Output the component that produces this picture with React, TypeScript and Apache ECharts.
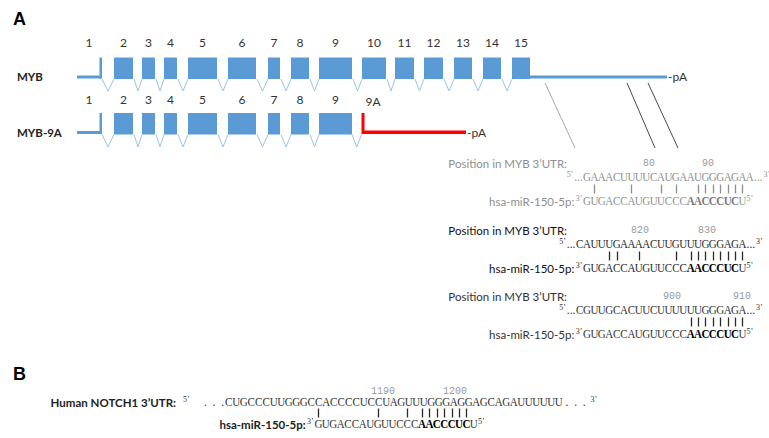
import React, { useEffect, useRef } from "react";
import * as echarts from "echarts";

const W = 769;
const H = 438;

// ---------- Panel A : gene model data ----------
const exonNumbers = ["1", "2", "3", "4", "5", "6", "7", "8", "9", "10", "11", "12", "13", "14", "15"];
const mybExons: [number, number][] = [
  [77, 101], [114, 133], [142, 155], [164, 177], [188, 217], [228, 256], [268, 280],
  [291, 309], [319, 352], [362, 386], [395, 414], [424, 443], [454, 472], [483, 501], [512, 530],
];
const myb3UTR: [number, number] = [530, 667];
const myb9aExonCount = 9;
const exon9A: [number, number] = [363, 466];
const exon9ALabel = "9A";
const trackNames = ["MYB", "MYB-9A"];
const utrSites: [number, number][] = [[545, 575], [627, 655], [648, 678]];

// ---------- alignments ----------
const mirName = "hsa-miR-150-5p:";
const mirSeq = "GUGACCAUGUUCCCAACCCUCU";
const mirBold: [number, number] = [14, 20];

const site1Top = "GAAACUUUUCAUGAAUGGGAGAA";
const site1Pairs = [1, 6, 10, 12, 15, 16, 17, 18, 19, 20, 21];
const site1Ticks = ["80", "90"];

const site2Top = "CAUUUGAAAACUUGUUUGGGAGA";
const site2Pairs = [3, 4, 7, 12, 14, 15, 16, 17, 18, 19, 20, 21];
const site2Ticks = ["820", "830"];

const site3Top = "CGUUGCACUUCUUUUUUGGGAGA";
const site3Pairs = [14, 15, 16, 17, 18, 19, 20, 21];
const site3Ticks = ["900", "910"];

const notchLabel = "Human NOTCH1 3\u2019UTR:";
const notchTop = "CUGCCCUUGGGCCACCCCUCCUAGUUUGGGAGGAGCAGAUUUUUU";
const notchPairs = [0, 8, 12, 14, 15, 16, 17, 18, 19, 20];
const notchTicks = ["1190", "1200"];

// ---------- layout & style (not data) ----------
const BLUE = "#5b9bd5";
const LIGHTBLUE = "#9dc3e6";
const RED = "#ff0000";
const FONT_LABEL = "Lato, 'Open Sans', sans-serif";
const FONT_SEQ = "'Liberation Serif', 'DejaVu Serif', serif";
const FONT_NUM = "'Liberation Mono', 'DejaVu Sans Mono', monospace";
const FONT_HEAD = "'Liberation Sans', Arial, sans-serif";
const PAIR_COLORS = ["#8f8f8f", "#2a2a2a"];
const SEQ_SIZE = 12.5;
const SEQ_SCALE = 0.88;

const TRACK = [
  { top: 57.5, bottom: 79, lineTop: 75.5, depth: 91, numY: 42, labelY: 76 },
  { top: 113, bottom: 134.5, lineTop: 131, depth: 147, numY: 99, labelY: 132 },
];

const P = 7.4;
const B0 = 587;
const SITE_LAYOUT = [
  { y: 164, tickX: [649, 708], offset: 0, color: "#8f8f8f", labelColor: "#8f8f8f", boldColor: "#7a7a7a", pairColor: 0 },
  { y: 231, tickX: [640, 707], offset: 1, color: "#2a2a2a", labelColor: "#111", boldColor: "#000", pairColor: 1 },
  { y: 297, tickX: [672, 742], offset: 1, color: "#333", labelColor: "#333", boldColor: "#000", pairColor: 1 },
];
const SITES = [
  { top: site1Top, pairs: site1Pairs, ticks: site1Ticks },
  { top: site2Top, pairs: site2Pairs, ticks: site2Ticks },
  { top: site3Top, pairs: site3Pairs, ticks: site3Ticks },
];
const NB = { yNum: 391, ySeq: 402, yBar: 413, yMir: 424, TP: 7.5, T0: 228.75, MB0: 318.4, MP: 7.4 };

type Txt = {
  x: number; y: number; text: string; size?: number; color?: string;
  weight?: string; family?: string; align?: "left" | "center" | "right"; sx?: number;
};

function buildTexts(): Txt[] {
  const out: Txt[] = [];
  const add = (o: Txt) => out.push(o);

  add({ x: 13, y: 19, text: "A", size: 18, weight: "bold", family: FONT_HEAD, color: "#000" });
  add({ x: 13, y: 374, text: "B", size: 18, weight: "bold", family: FONT_HEAD, color: "#000" });

  mybExons.forEach(([s, e], i) => {
    add({ x: (s + e) / 2, y: TRACK[0].numY, text: exonNumbers[i], size: 12, family: FONT_LABEL, color: "#333", align: "center" });
    if (i < myb9aExonCount) {
      add({ x: (s + e) / 2, y: TRACK[1].numY, text: exonNumbers[i], size: 12, family: FONT_LABEL, color: "#333", align: "center" });
    }
  });
  add({ x: exon9A[0] + 10, y: TRACK[1].numY + 2, text: exon9ALabel, size: 12, family: FONT_LABEL, color: "#333", align: "center" });

  trackNames.forEach((n, i) => {
    add({ x: 17, y: TRACK[i].labelY, text: n, size: 11.5, weight: "bold", family: FONT_LABEL, color: "#222" });
  });
  add({ x: myb3UTR[1] + 1, y: TRACK[0].labelY, text: "-pA", size: 12, family: FONT_LABEL, color: "#333" });
  add({ x: exon9A[1] + 1, y: TRACK[1].labelY, text: "-pA", size: 12, family: FONT_LABEL, color: "#333" });

  const seqRow = (seq: string, y: number, c0: number, pitch: number, color: string, boldColor: string, bold?: [number, number]) => {
    for (let i = 0; i < seq.length; i++) {
      const isB = !!bold && i >= bold[0] && i <= bold[1];
      add({ x: c0 + pitch * i, y, text: seq[i], size: SEQ_SIZE, sx: SEQ_SCALE, family: FONT_SEQ, color: isB ? boldColor : color, weight: isB ? "bold" : "normal", align: "center" });
    }
  };

  SITES.forEach((site, k) => {
    const s = SITE_LAYOUT[k];
    const ySeq = s.y + 13;
    const yMir = s.y + 37;
    add({ x: 567, y: s.y - 1, text: "Position in MYB 3\u2019UTR:", size: 11.5, family: FONT_LABEL, color: s.labelColor, align: "right" });
    site.ticks.forEach((tk, i) => add({ x: s.tickX[i], y: s.y - 1, text: tk, size: 10, family: FONT_NUM, color: "#9a9a9a", align: "center" }));
    const t0 = B0 - P * s.offset;
    const left = t0 - P / 2;
    const right = t0 + P * (site.top.length - 1) + P / 2;
    add({ x: left - 0.5, y: ySeq, text: "...", size: 11.5, family: FONT_SEQ, color: s.color, align: "right" });
    add({ x: left - 10, y: ySeq - 3, text: "5\u2019", size: 8, family: FONT_SEQ, color: s.color, align: "right" });
    seqRow(site.top, ySeq, t0, P, s.color, s.color);
    add({ x: right + 0.5, y: ySeq, text: "...", size: 11.5, family: FONT_SEQ, color: s.color, align: "left" });
    add({ x: right + 10, y: ySeq - 3, text: "3\u2019", size: 8, family: FONT_SEQ, color: s.color, align: "left" });
    const bl = B0 - P / 2;
    add({ x: bl - 1, y: yMir - 3, text: "3\u2019", size: 8, family: FONT_SEQ, color: s.color, align: "right" });
    seqRow(mirSeq, yMir, B0, P, s.color, s.boldColor, mirBold);
    add({ x: B0 + P * (mirSeq.length - 1) + P / 2 + 0.5, y: yMir - 3, text: "5\u2019", size: 8, family: FONT_SEQ, color: s.color, align: "left" });
    add({ x: bl - 9, y: yMir, text: mirName, size: 11.5, family: FONT_LABEL, color: s.labelColor, align: "right" });
  });

  // Panel B
  {
    const { yNum, ySeq, yMir, TP, T0, MB0, MP } = NB;
    add({ x: 176, y: ySeq, text: notchLabel, size: 11.5, weight: "bold", family: FONT_LABEL, color: "#222", align: "right" });
    add({ x: 183, y: ySeq - 3, text: "5\u2019", size: 8, family: FONT_SEQ, color: "#333", align: "left" });
    add({ x: T0 - TP / 2 - 1, y: ySeq, text: ".  .  .", size: 11.5, family: FONT_SEQ, color: "#333", align: "right" });
    for (let i = 0; i < notchTop.length; i++) {
      add({ x: T0 + TP * i, y: ySeq, text: notchTop[i], size: SEQ_SIZE, sx: SEQ_SCALE, family: FONT_SEQ, color: "#333", align: "center" });
    }
    const r = T0 + TP * (notchTop.length - 1) + TP / 2;
    add({ x: r + 3, y: ySeq, text: ".  .  .", size: 11.5, family: FONT_SEQ, color: "#333", align: "left" });
    add({ x: r + 28, y: ySeq - 3, text: "3\u2019", size: 8, family: FONT_SEQ, color: "#333", align: "left" });
    [383, 455].forEach((x, i) => add({ x, y: yNum, text: notchTicks[i], size: 10, family: FONT_NUM, color: "#9a9a9a", align: "center" }));
    const bl = MB0 - MP / 2;
    add({ x: bl - 1, y: yMir - 3, text: "3\u2019", size: 8, family: FONT_SEQ, color: "#333", align: "right" });
    for (let i = 0; i < mirSeq.length; i++) {
      const isB = i >= mirBold[0] && i <= mirBold[1];
      add({ x: MB0 + MP * i, y: yMir, text: mirSeq[i], size: SEQ_SIZE, sx: SEQ_SCALE, family: FONT_SEQ, color: isB ? "#000" : "#333", weight: isB ? "bold" : "normal", align: "center" });
    }
    add({ x: MB0 + MP * (mirSeq.length - 1) + MP / 2 + 0.5, y: yMir - 3, text: "5\u2019", size: 8, family: FONT_SEQ, color: "#333", align: "left" });
    add({ x: bl - 9, y: yMir, text: mirName, size: 11.5, weight: "bold", family: FONT_LABEL, color: "#222", align: "right" });
  }
  return out;
}

function buildPairs(): number[][] {
  const out: number[][] = [];
  SITES.forEach((site, k) => {
    const s = SITE_LAYOUT[k];
    site.pairs.forEach((b) => out.push([B0 + P * b, s.y + 25, s.pairColor]));
  });
  notchPairs.forEach((b) => out.push([NB.MB0 + NB.MP * b, NB.yBar, 1]));
  return out;
}

function buildRects(): number[][] {
  const rects: number[][] = [];
  [0, 1].forEach((t) => {
    const tr = TRACK[t];
    const n = t === 0 ? mybExons.length : myb9aExonCount;
    for (let i = 0; i < n; i++) {
      const [s, e] = mybExons[i];
      if (i === 0) {
        rects.push([s, e, tr.lineTop, tr.bottom - 0.5, 0]);
        rects.push([e - 1.5, e + 1, tr.top, tr.bottom - 0.5, 0]);
      } else {
        rects.push([s, e, tr.top, tr.bottom, 0]);
      }
    }
  });
  rects.push([myb3UTR[0], myb3UTR[1], TRACK[0].lineTop, TRACK[0].bottom - 0.5, 0]);
  rects.push([exon9A[0] - 1.5, exon9A[0] + 1.5, TRACK[1].top, TRACK[1].bottom - 0.5, 1]);
  rects.push([exon9A[0], exon9A[1], TRACK[1].lineTop - 0.5, TRACK[1].bottom - 0.5, 1]);
  return rects;
}

function buildIntrons(): number[][] {
  const out: number[][] = [];
  for (let i = 0; i < mybExons.length - 1; i++) {
    out.push([mybExons[i][1] + 1, mybExons[i + 1][0], TRACK[0].bottom, TRACK[0].depth]);
  }
  for (let i = 0; i < myb9aExonCount - 1; i++) {
    out.push([mybExons[i][1] + 1, mybExons[i + 1][0], TRACK[1].bottom, TRACK[1].depth]);
  }
  out.push([mybExons[myb9aExonCount - 1][1], exon9A[0] - 1.5, TRACK[1].bottom, TRACK[1].depth]);
  return out;
}

function buildConnectors(): number[][] {
  return utrSites.map(([a, b], i) => [a, 83, b, 148, i === 0 ? 0 : 1]);
}

export default function App() {
  const ref = useRef<HTMLDivElement>(null);
  useEffect(() => {
    document.body.style.margin = "0";
    if (!ref.current) return;
    const chart = echarts.init(ref.current, undefined, { renderer: "svg" });
    const texts = buildTexts();
    const option: any = {
      animation: false,
      backgroundColor: "#ffffff",
      grid: { left: 0, right: 0, top: 0, bottom: 0, containLabel: false },
      xAxis: { type: "value", min: 0, max: W, show: false },
      yAxis: { type: "value", min: 0, max: H, inverse: true, show: false },
      series: [
        {
          type: "custom",
          name: "introns",
          silent: true,
          clip: false,
          data: buildIntrons(),
          encode: { x: [0, 1], y: [2, 3] },
          renderItem: (_p: any, api: any) => {
            const a = api.value(0), b = api.value(1), y0 = api.value(2), y1 = api.value(3);
            const p1 = api.coord([a, y0]);
            const p2 = api.coord([(a + b) / 2, y1]);
            const p3 = api.coord([b, y0]);
            return { type: "polyline", shape: { points: [p1, p2, p3] }, style: { stroke: LIGHTBLUE, lineWidth: 1, fill: "none" } };
          },
        },
        {
          type: "custom",
          name: "exons",
          silent: true,
          clip: false,
          data: buildRects(),
          encode: { x: [0, 1], y: [2, 3] },
          renderItem: (_p: any, api: any) => {
            const p0 = api.coord([api.value(0), api.value(2)]);
            const p1 = api.coord([api.value(1), api.value(3)]);
            return {
              type: "rect",
              shape: { x: Math.min(p0[0], p1[0]), y: Math.min(p0[1], p1[1]), width: Math.abs(p1[0] - p0[0]), height: Math.abs(p1[1] - p0[1]) },
              style: { fill: api.value(4) === 1 ? RED : BLUE },
            };
          },
        },
        {
          type: "custom",
          name: "sites",
          silent: true,
          clip: false,
          data: buildConnectors(),
          encode: { x: [0, 2], y: [1, 3] },
          renderItem: (_p: any, api: any) => {
            const p0 = api.coord([api.value(0), api.value(1)]);
            const p1 = api.coord([api.value(2), api.value(3)]);
            return {
              type: "line",
              shape: { x1: p0[0], y1: p0[1], x2: p1[0], y2: p1[1] },
              style: { stroke: api.value(4) === 0 ? "#a8a8a8" : "#4a4a4a", lineWidth: 1 },
            };
          },
        },
        {
          type: "custom",
          name: "pairs",
          silent: true,
          clip: false,
          data: buildPairs(),
          encode: { x: 0, y: 1 },
          renderItem: (_p: any, api: any) => {
            const c = api.coord([api.value(0), api.value(1)]);
            const x = Math.round(c[0]) + 0.5;
            return {
              type: "line",
              shape: { x1: x, y1: c[1] - 4.5, x2: x, y2: c[1] + 4.5 },
              style: { stroke: PAIR_COLORS[api.value(2)], lineWidth: 1.3 },
            };
          },
        },
      ],
      graphic: {
        elements: texts.map((o) => ({
          type: "text",
          x: o.x,
          y: o.y,
          scaleX: o.sx || 1,
          silent: true,
          style: {
            text: o.text,
            fill: o.color || "#000",
            fontSize: o.size || 12,
            fontFamily: o.family || FONT_LABEL,
            fontWeight: o.weight || "normal",
            textAlign: o.align || "left",
            textVerticalAlign: "middle",
            verticalAlign: "middle",
          },
        })),
      },
    };
    chart.setOption(option);
    return () => chart.dispose();
  }, []);
  return <div ref={ref} style={{ width: W, height: H }} />;
}
